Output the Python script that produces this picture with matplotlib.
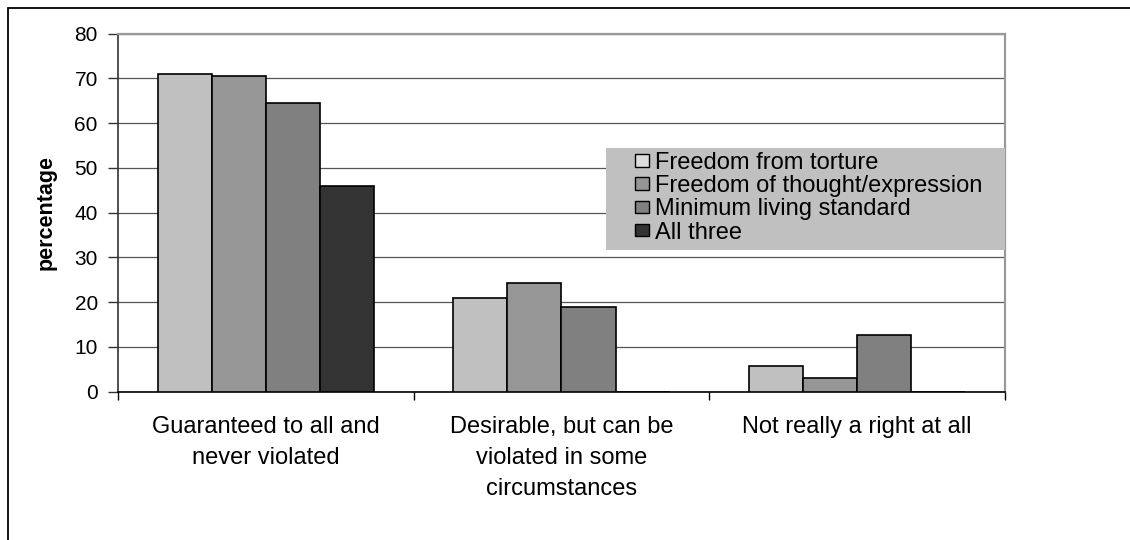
import matplotlib
matplotlib.use("Agg")
import matplotlib.pyplot as plt
from matplotlib.patches import Rectangle, Patch
import numpy as np

plt.rcParams['font.family'] = ['Liberation Sans', 'DejaVu Sans']

# Survey data: share of respondents (%) for each view of the right
categories = [
    "Guaranteed to all and\nnever violated",
    "Desirable, but can be\nviolated in some\ncircumstances",
    "Not really a right at all",
]
series_names = [
    "Freedom from torture",
    "Freedom of thought/expression",
    "Minimum living standard",
    "All three",
]
torture = [70.9, 21.0, 5.8]
thought = [70.5, 24.3, 3.0]
living = [64.4, 18.9, 12.7]
all_three = [45.9, 0.0, 0.0]
y_ticks = [0, 10, 20, 30, 40, 50, 60, 70, 80]

series = [torture, thought, living, all_three]
colors = ["#c0c0c0", "#969696", "#808080", "#333333"]

W, H, DPI = 1130, 540, 100
fig = plt.figure(figsize=(W / DPI, H / DPI), dpi=DPI)
fig.patch.set_facecolor("white")

# plot area in pixels
left, right, top, bottom = 118, 1005, 33.6, 391.7
ax = fig.add_axes([left / W, 1 - bottom / H, (right - left) / W, (bottom - top) / H])

x = np.arange(len(categories))
bw = 0.183
for i, (vals, col, name) in enumerate(zip(series, colors, series_names)):
    ax.bar(x + (i - 1.5) * bw, vals, width=bw, color=col, edgecolor="black",
           linewidth=1.2, label=name, zorder=3)

ax.set_xlim(-0.5, len(categories) - 0.5)
ax.set_ylim(0, 80)
ax.set_yticks(y_ticks)
ax.yaxis.grid(True, color="#555555", linewidth=0.9)
ax.set_axisbelow(True)

# category boundary ticks, labels at category centres
ax.set_xticks(np.arange(-0.5, len(categories), 1.0))
ax.set_xticklabels([])
ax.set_xticks(x, minor=True)
ax.set_xticklabels(categories, minor=True, fontsize=17, linespacing=1.52)
ax.tick_params(axis="x", which="major", direction="out", length=6, width=1, color="black")
ax.tick_params(axis="x", which="minor", length=0, pad=17.5)
ax.tick_params(axis="y", direction="out", length=7, width=1, color="#333333",
               labelsize=15, pad=7.5)

ax.spines["left"].set_color("#333333")
ax.spines["left"].set_linewidth(1.2)
ax.spines["bottom"].set_color("black")
ax.spines["bottom"].set_linewidth(1.2)
for s in ("top", "right"):
    ax.spines[s].set_color("#999999")
    ax.spines[s].set_linewidth(1.6)

ax.set_ylabel("percentage", fontsize=15.5, fontweight="bold")
ax.yaxis.set_label_coords((57 - left) / (right - left), 0.5)

# legend with a flat grey background
fig.patches.append(Rectangle((606 / W, 1 - 250 / H), (1005 - 606) / W, (250 - 148) / H,
                             transform=fig.transFigure, facecolor="#c0c0c0",
                             edgecolor="none", zorder=5))
handles = [Patch(facecolor=c, edgecolor="black", linewidth=1.0) for c in colors]
handles[0] = Patch(facecolor="#dcdcdc", edgecolor="black", linewidth=1.0)
leg = fig.legend(handles, series_names, loc="upper left",
                 bbox_to_anchor=(635 / W, 1 - 152 / H), bbox_transform=fig.transFigure,
                 frameon=False, fontsize=17, handlelength=0.6, handleheight=0.45,
                 handletextpad=0.25, labelspacing=0.05, borderpad=0, borderaxespad=0)
leg.set_zorder(6)

# outer chart border
fig.patches.append(Rectangle((8 / W, -0.2), 2.0, 1.2 - 8 / H, transform=fig.transFigure,
                             fill=False, edgecolor="black", linewidth=1.3))

fig.savefig("out.png", dpi=DPI)
